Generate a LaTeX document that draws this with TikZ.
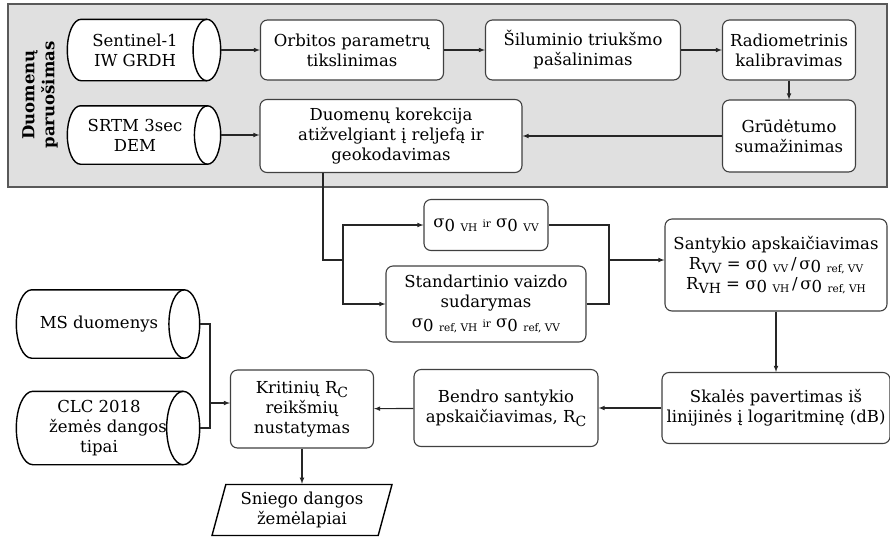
\documentclass[tikz,border=0pt]{standalone}
\usepackage{fontspec}
\setmainfont{DejaVu Serif}
\usetikzlibrary{shapes,arrows,calc,positioning,backgrounds}

\newcommand{\smalltxt}{\fontsize{10.5}{12}\selectfont}
\newcommand{\sig}[1]{σ\raisebox{-0.4ex}{0\,\,{\smalltxt #1}}}
\newcommand{\Rsub}[1]{R\raisebox{-0.45ex}{\fontsize{14}{15}\selectfont #1}}
\newcommand{\dbpad}{\hspace*{18pt}}

\tikzset{
	every node/.style={font=\fontsize{16.5}{20}\selectfont},
	box/.style={draw=black!75, fill=white, rounded corners=7pt, align=center, line width=1.1pt, inner sep=2pt},
	db/.style={align=center, inner sep=1pt},
	dbline/.style={draw=black, line width=1.4pt},
	outbox/.style={trapezium, trapezium left angle=70, trapezium right angle=110, trapezium stretches body, draw=black, fill=white, align=center, line width=1.4pt, inner sep=1pt},
	line/.style={draw=black!85, line width=1.1pt},
	arr/.style={line, -latex}
}

\begin{document}
\begin{tikzpicture}[x=1pt, y=-1pt]
	\useasboundingbox (0,0) rectangle (890,539);
	% data preparation
	\begin{pgfonlayer}{background}
		\draw[fill=black!12, draw=black!65, line width=1.2pt] (8,4) rectangle (887,187);
	\end{pgfonlayer}
	\node[rotate=90, align=center, font=\fontsize{16.5}{20}\selectfont\bfseries] (prep) at (40,95) {Duomenų\\paruošimas};

	\node[db, minimum width=153, minimum height=61]	(sentinel)	at (144,50)	{Sentinel-1\dbpad\\IW GRDH\dbpad};
	\node[db, minimum width=153, minimum height=58]	(srtm)		at (144,135)	{SRTM 3sec\dbpad\\DEM\dbpad};
	\node[box, minimum width=183, minimum height=60]	(orbit)		at (352,50)	{Orbitos parametrų\\tikslinimas};
	\node[box, minimum width=195, minimum height=60]	(noise)		at (583,50)	{Šiluminio triukšmo\\pašalinimas};
	\node[box, minimum width=133, minimum height=60]	(radio)		at (789,50)	{Radiometrinis\\kalibravimas};
	\node[box, minimum width=133, minimum height=72]	(speckle)	at (789,136)	{Grūdėtumo\\sumažinimas};
	\node[box, minimum width=262, minimum height=73]	(terrain)	at (391,136)	{Duomenų korekcija\\atižvelgiant į reljefą ir\\geokodavimas};

	% ratios
	\node[box, minimum width=124, minimum height=51]	(sigma)		at (486,225)	{\sig{VH} {\smalltxt ir} \sig{VV}};
	\node[box, minimum width=200, minimum height=76]	(refimg)	at (486,304)	{Standartinio vaizdo\\sudarymas\\\sig{ref, VH} {\smalltxt ir} \sig{ref, VV}};
	\node[box, minimum width=222, minimum height=92]	(ratio)		at (776,265)	{Santykio apskaičiavimas\\\Rsub{VV} = \sig{VV}\,/\,\sig{ref, VV}\\\Rsub{VH} = \sig{VH}\,/\,\sig{ref, VH}};
	\node[box, minimum width=228, minimum height=71]	(decibel)	at (776,408)	{Skalės pavertimas iš\\linijinės į logaritminę (dB)};
	\node[box, minimum width=184, minimum height=77]	(combined)	at (506,408)	{Bendro santykio\\apskaičiavimas, \Rsub{C}};
	\node[box, minimum width=143, minimum height=78]	(critical)	at (302,409)	{Kritinių \Rsub{C}\\reikšmių\\nustatymas};
	\node[db, minimum width=183, minimum height=68]	(ms)		at (108,324)	{MS duomenys\dbpad};
	\node[db, minimum width=183, minimum height=73]	(clc)		at (108,428)	{CLC 2018\dbpad\\žemės dangos\dbpad\\tipai\dbpad};
	\node[outbox, minimum width=180, minimum height=51]	(snow)		at (302,510)	{Sniego dangos\\žemėlapiai};

	% cylinders behind the data nodes
	\begin{pgfonlayer}{background}
	\foreach \c in {sentinel,srtm,ms,clc} {
		\draw[dbline, fill=white] let \p1=($(\c.north)-(\c.south)$), \n1={0.5*\y1}, \n2={0.225*\y1} in
			([xshift=\n2]\c.north west) -- ([xshift=-\n2]\c.north east)
			arc[start angle=90, end angle=-90, x radius={\n2*1pt}, y radius={\n1*1pt}]
			-- ([xshift=\n2]\c.south west)
			arc[start angle=270, end angle=90, x radius={\n2*1pt}, y radius={\n1*1pt}] -- cycle;
		\draw[dbline] let \p1=($(\c.north)-(\c.south)$), \n1={0.5*\y1}, \n2={0.225*\y1} in
			([xshift=-\n2]\c.north east)
			arc[start angle=90, end angle=270, x radius={\n2*1pt}, y radius={\n1*1pt}];
	}
	\end{pgfonlayer}

	\coordinate (split)	at (343,260);
	\coordinate (join)	at (609,260);
	\coordinate (mjoin)	at (210,403);

	\draw[arr]	(sentinel)	-- (orbit);
	\draw[arr]	(srtm.east)	-- (srtm.east -| terrain.west);
	\draw[arr]	(orbit)		-- (noise);
	\draw[arr]	(noise)		-- (radio);
	\draw[arr]	(radio)		-- (speckle);
	\draw[arr]	(speckle)	-- (terrain);
	\draw[line]	([xshift=-68pt]terrain.south) |- (split);
	\draw[arr]	(split)		|- (sigma.west);
	\draw[arr]	(split)		|- (refimg.west);
	\draw[line]	(sigma.east)	-| (join);
	\draw[line]	(refimg.east)	-| (join);
	\draw[arr]	(join)		-- (join -| ratio.west);
	\draw[arr]	(ratio)		-- (decibel);
	\draw[arr]	(decibel)	-- (combined);
	\draw[arr]	(combined)	-- (critical);
	\draw[line]	(ms.east)	-| (mjoin);
	\draw[line]	(clc.east)	-| (mjoin);
	\draw[arr]	(mjoin)		-- (mjoin -| critical.west);
	\draw[arr]	(critical)	-- (snow);
\end{tikzpicture}
\end{document}
